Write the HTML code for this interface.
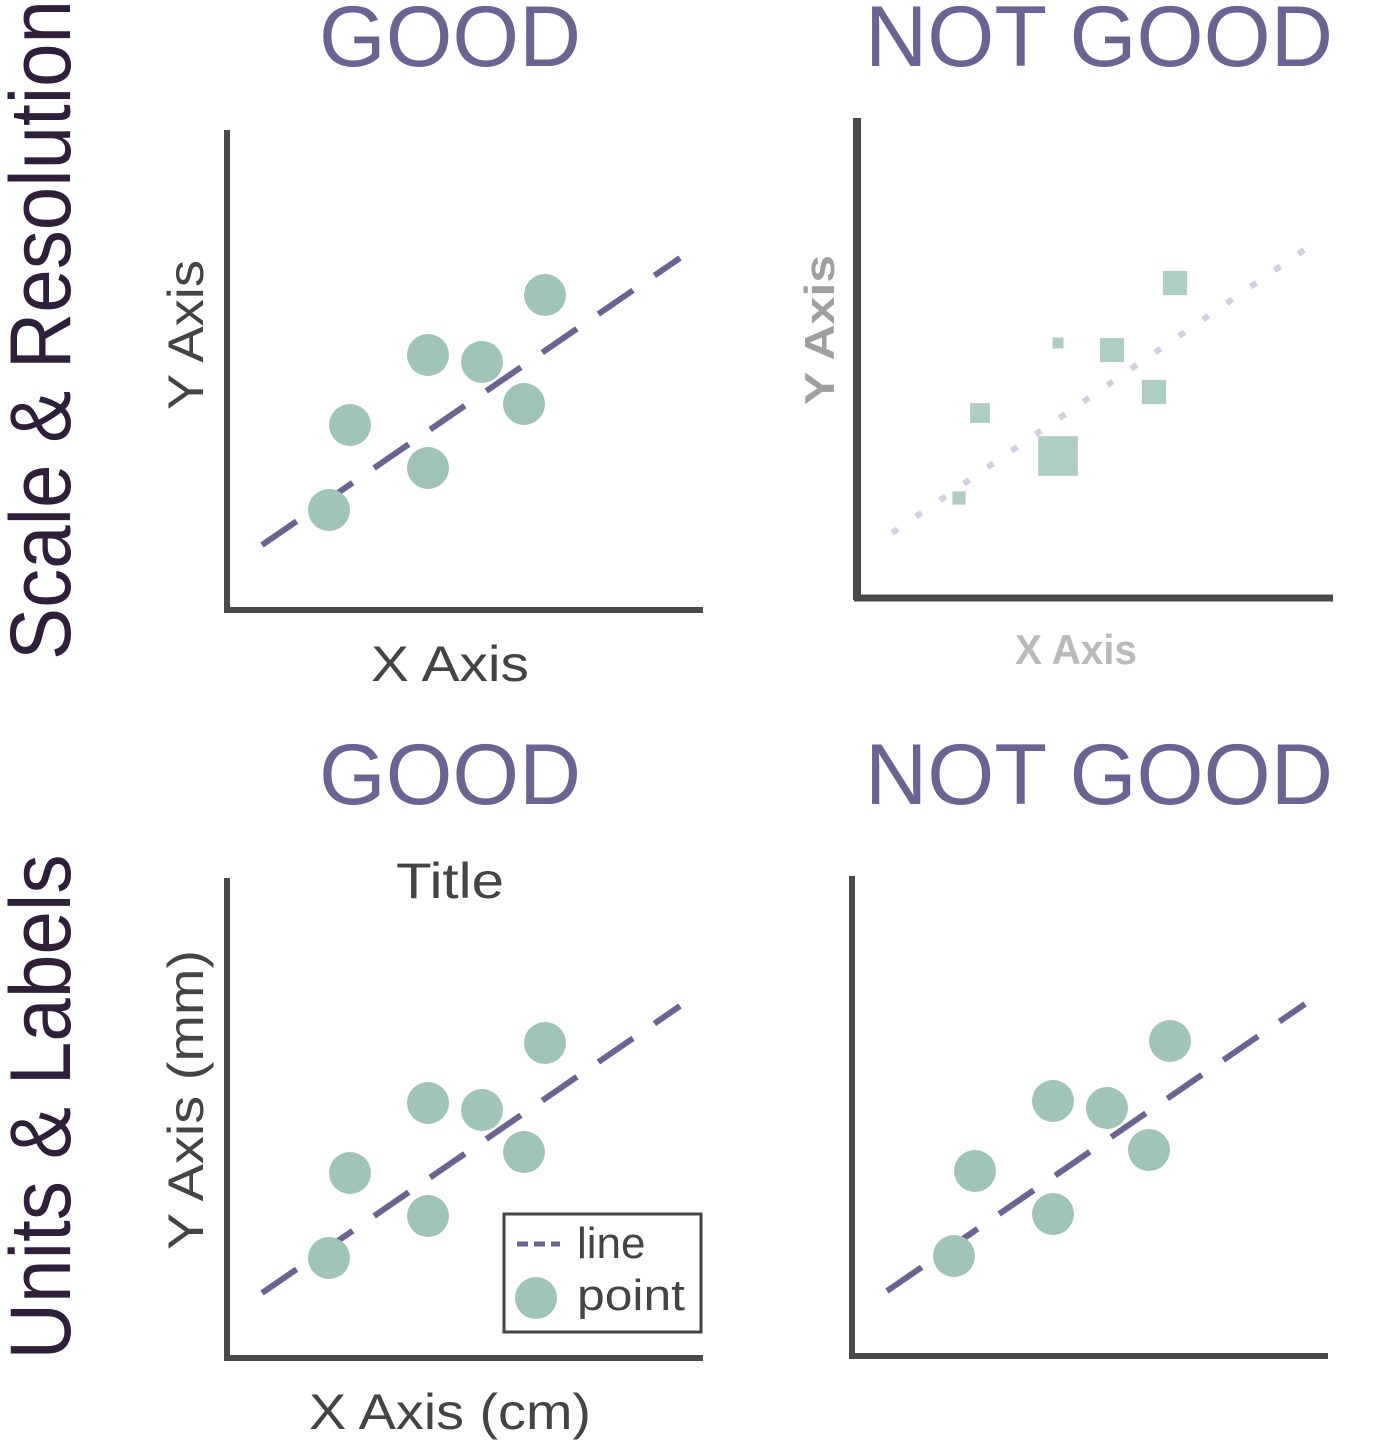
<!DOCTYPE html>
<html><head><meta charset="utf-8"><style>
html,body{margin:0;padding:0;background:#fff;}
svg{display:block;font-family:"Liberation Sans",sans-serif;}
</style></head><body>
<svg id="s" width="1393" height="1455" viewBox="0 0 1393 1455" xmlns="http://www.w3.org/2000/svg">
<g fill="#2e1f3a" font-size="86">
<text transform="translate(70,330) rotate(-90)" text-anchor="middle" textLength="660" lengthAdjust="spacingAndGlyphs">Scale &amp; Resolution</text>
<text transform="translate(70,1107) rotate(-90)" text-anchor="middle" textLength="505" lengthAdjust="spacingAndGlyphs">Units &amp; Labels</text>
</g>
<g fill="#6b6394" font-size="86">
<text x="450" y="66" text-anchor="middle" textLength="262" lengthAdjust="spacingAndGlyphs">GOOD</text>
<text x="1099" y="66" text-anchor="middle" textLength="468" lengthAdjust="spacingAndGlyphs">NOT GOOD</text>
<text x="450" y="804" text-anchor="middle" textLength="262" lengthAdjust="spacingAndGlyphs">GOOD</text>
<text x="1099" y="804" text-anchor="middle" textLength="468" lengthAdjust="spacingAndGlyphs">NOT GOOD</text>
</g>
<g id="plots"></g>
</svg>
<script>
// data (same scatter in each panel)
const pointX = [10.2, 12.3, 20.1, 20.1, 25.5, 29.7, 31.8];
const pointY = [10.0, 18.5, 25.5, 14.2, 24.8, 20.6, 31.5];
const lineX = [3.5, 45.3];
const lineY = [6.5, 35.2];
const pixPointSize = [0.6, 0.9, 0.5, 1.8, 1.1, 1.1, 1.1];

const NS = "http://www.w3.org/2000/svg";
const root = document.getElementById('plots');
function mk(tag, attrs, parent){const e=document.createElementNS(NS,tag);for(const k in attrs)e.setAttribute(k,attrs[k]);(parent||root).appendChild(e);return e;}

function panel(name, ox, oy, opts){
  const g = mk('g',{});
  
  
  const sx = v => ox + v*10;
  const sy = v => oy - v*10;
  const c0 = '#4a4a4a';
  const ya = mk('line',{x1:ox,y1:oy-480,x2:ox,y2:oy+2,stroke:c0,'stroke-width':opts.pix?8:6},g);
  
  
  const xa = mk('line',{x1:ox-3,y1:oy,x2:ox+476,y2:oy,stroke:c0,'stroke-width':opts.pix?7:6},g);
  
  
  const ln = mk('line',{x1:sx(lineX[0]),y1:sy(lineY[0]),x2:sx(lineX[1]),y2:sy(lineY[1]),stroke:'#6b6394','stroke-width':6,'stroke-dasharray':opts.pix?'7 22':'42 26','stroke-opacity':opts.pix?0.3:1},g);
  
  
  for(let i=0;i<pointX.length;i++){
    let c;
    if(opts.pix){
      const s = 22*pixPointSize[i];
      c = mk('rect',{x:sx(pointX[i])-s/2,y:sy(pointY[i])-s/2,width:s,height:s,fill:'#a0c4b8','fill-opacity':0.85},g);
    } else {
      c = mk('circle',{cx:sx(pointX[i]),cy:sy(pointY[i]),r:21,fill:'#a0c4b8'},g);
    }
    
    
  }
  return g;
}
function txt(parent,name,content,attrs){const t=mk('text',attrs,parent);t.textContent=content;return t;}

const p1 = panel('good-scale-plot',227,610,{});
txt(p1,'x-axis-title','X Axis',{x:450,y:681,'text-anchor':'middle','font-size':50,fill:'#444',textLength:158,lengthAdjust:'spacingAndGlyphs'});
txt(p1,'y-axis-title','Y Axis',{transform:'translate(203,335) rotate(-90)','text-anchor':'middle','font-size':50,fill:'#444',textLength:150,lengthAdjust:'spacingAndGlyphs'});

const p2 = panel('pixelated-plot',857,598,{pix:true});
txt(p2,'x-axis-title','X Axis',{x:1076,y:664,'text-anchor':'middle','font-size':42,fill:'#aaa','font-weight':'bold',opacity:0.8,textLength:122,lengthAdjust:'spacingAndGlyphs'});
txt(p2,'y-axis-title','Y Axis',{transform:'translate(834,330) rotate(-90)','text-anchor':'middle','font-size':42,fill:'#888','font-weight':'bold',opacity:0.8,textLength:150,lengthAdjust:'spacingAndGlyphs'});

const p3 = panel('good-labels-plot',227,1358,{});
txt(p3,'chart-title','Title',{x:450,y:898,'text-anchor':'middle','font-size':50,fill:'#444',textLength:108,lengthAdjust:'spacingAndGlyphs'});
txt(p3,'x-axis-title','X Axis (cm)',{x:450,y:1429,'text-anchor':'middle','font-size':50,fill:'#444',textLength:282,lengthAdjust:'spacingAndGlyphs'});
txt(p3,'y-axis-title','Y Axis (mm)',{transform:'translate(203,1100) rotate(-90)','text-anchor':'middle','font-size':50,fill:'#444',textLength:300,lengthAdjust:'spacingAndGlyphs'});
const lg = mk('g',{},p3);


mk('rect',{x:504,y:1214,width:197,height:118,fill:'#fff',stroke:'#444','stroke-width':3},lg);
mk('line',{x1:517,y1:1244,x2:560,y2:1244,stroke:'#6b6394','stroke-width':5,'stroke-dasharray':'11 6'},lg);
mk('circle',{cx:536,cy:1298,r:21,fill:'#a0c4b8'},lg);
txt(lg,'legend-line-label','line',{x:577,y:1258,'font-size':44,fill:'#444'});
txt(lg,'legend-point-label','point',{x:577,y:1310,'font-size':44,fill:'#444',textLength:108,lengthAdjust:'spacingAndGlyphs'});

panel('unlabeled-plot',852,1356,{});
</script>
</body></html>
